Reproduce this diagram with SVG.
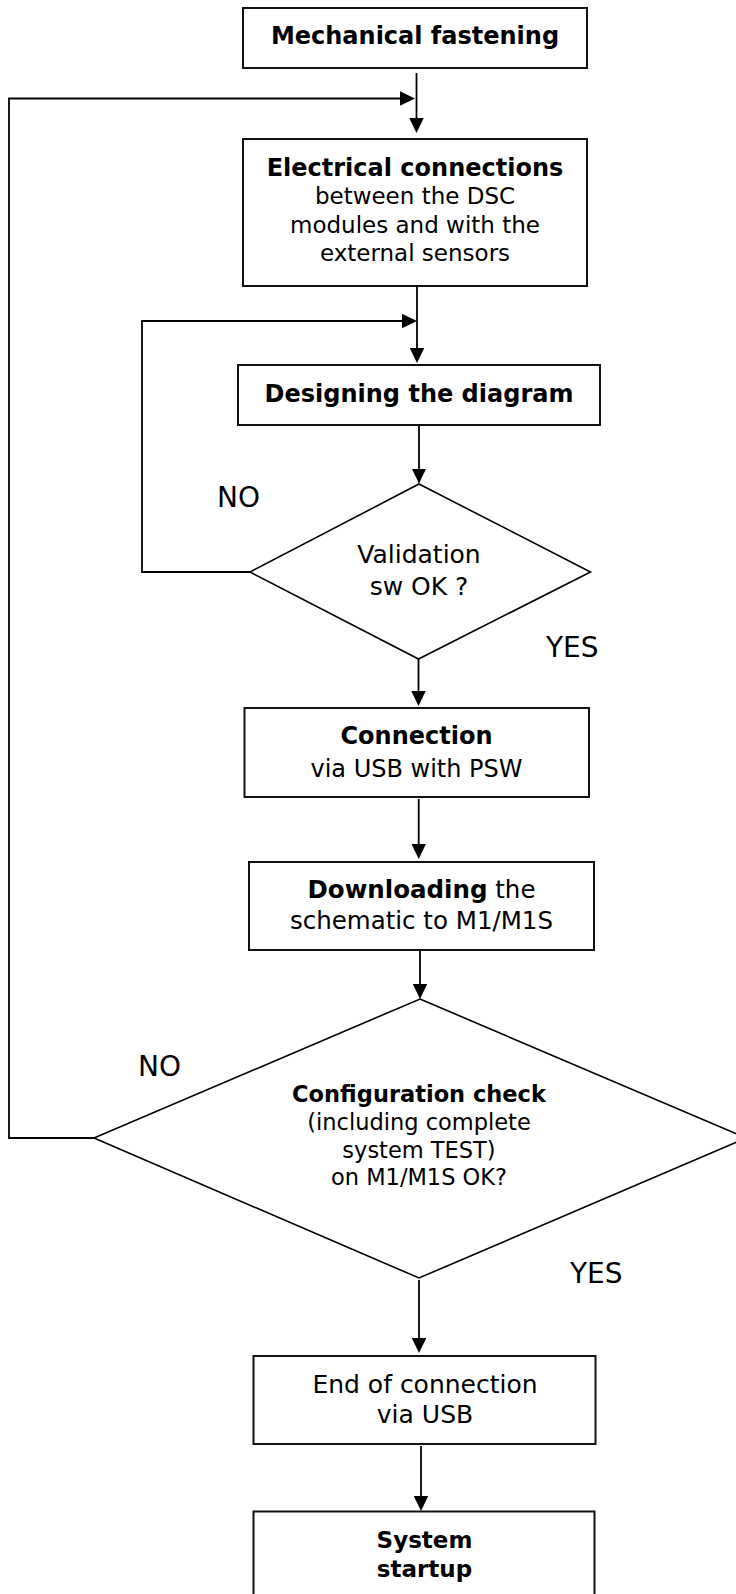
<svg xmlns="http://www.w3.org/2000/svg" width="736" height="1594" viewBox="0 0 736 1594">
<defs>
<style>
.box{fill:#fff;stroke:#111;stroke-width:2}
.dia{fill:#fff;stroke:#000;stroke-width:1.6}
.con{fill:none;stroke:#000;stroke-width:1.8}
.t{font-family:"DejaVu Sans",Verdana,sans-serif;fill:#000;text-anchor:middle}
.b{font-weight:bold}
.lbl{font-family:"DejaVu Sans",Verdana,sans-serif;fill:#000;font-size:28px}
</style>
<marker id="ah" viewBox="0 0 15 14.5" refX="11" refY="7.25" markerWidth="15" markerHeight="14.5" markerUnits="userSpaceOnUse" orient="auto">
<path d="M0,0 L15,7.25 L0,14.5 Z" fill="#000"/>
</marker>
</defs>
<rect x="0" y="0" width="736" height="1594" fill="#fff"/>

<g id="connectors">
<path class="con" d="M416.5,73 V129" marker-end="url(#ah)"/>
<path class="con" d="M94,1138 H9 V98.5 H411" marker-end="url(#ah)"/>
<path class="con" d="M417,286 V359" marker-end="url(#ah)"/>
<path class="con" d="M250,572 H142 V321 H413" marker-end="url(#ah)"/>
<path class="con" d="M419,425 V479.5" marker-end="url(#ah)"/>
<path class="con" d="M418.5,659 V702" marker-end="url(#ah)"/>
<path class="con" d="M418.7,799 V855" marker-end="url(#ah)"/>
<path class="con" d="M420,950 V995" marker-end="url(#ah)"/>
<path class="con" d="M419,1280 V1349" marker-end="url(#ah)"/>
<path class="con" d="M421,1446 V1507" marker-end="url(#ah)"/>
</g>

<g id="n1">
<rect class="box" x="243" y="8" width="344" height="60"/>
<text class="t b" x="415" y="44" font-size="24">Mechanical fastening</text>
</g>

<g id="n2">
<rect class="box" x="243" y="139" width="344" height="147"/>
<text class="t" x="415" font-size="23"><tspan class="b" x="415" y="176" font-size="24">Electrical connections</tspan><tspan x="415" y="204">between the DSC</tspan><tspan x="415" y="233">modules and with the</tspan><tspan x="415" y="261">external sensors</tspan></text>
</g>

<g id="n3">
<rect class="box" x="238" y="365" width="362" height="60"/>
<text class="t b" x="419" y="402" font-size="24">Designing the diagram</text>
</g>

<g id="n4">
<polygon class="dia" points="419,484 590.5,572 418.5,659 250,572"/>
<text class="t" font-size="25"><tspan x="419" y="563">Validation</tspan><tspan x="419" y="595">sw OK ?</tspan></text>
</g>
<text class="lbl" x="217" y="507">NO</text>
<text class="lbl" x="546" y="657">YES</text>

<g id="n5">
<rect class="box" x="244.5" y="708" width="344.5" height="89"/>
<text class="t" font-size="24"><tspan class="b" x="416.5" y="744">Connection</tspan><tspan x="416.5" y="777">via USB with PSW</tspan></text>
</g>

<g id="n6">
<rect class="box" x="249" y="862" width="345" height="88"/>
<text class="t" font-size="24.5"><tspan x="421.5" y="898"><tspan class="b">Downloading</tspan> the</tspan><tspan x="421.5" y="929">schematic to M1/M1S</tspan></text>
</g>

<g id="n7">
<polygon class="dia" points="420,999 746,1138 419,1278 94,1138"/>
<text class="t" font-size="22.5"><tspan class="b" x="419" y="1102">Configuration check</tspan><tspan x="419" y="1130">(including complete</tspan><tspan x="419" y="1158">system TEST)</tspan><tspan x="419" y="1185">on M1/M1S OK?</tspan></text>
</g>
<text class="lbl" x="138" y="1076">NO</text>
<text class="lbl" x="570" y="1283">YES</text>

<g id="n8">
<rect class="box" x="253.5" y="1356" width="342" height="88"/>
<text class="t" font-size="25"><tspan x="425" y="1393">End of connection</tspan><tspan x="425" y="1423">via USB</tspan></text>
</g>

<g id="n9">
<rect class="box" x="253.5" y="1511.5" width="341" height="100"/>
<text class="t b" font-size="23"><tspan x="424.5" y="1548">System</tspan><tspan x="424.5" y="1577">startup</tspan></text>
</g>
</svg>
